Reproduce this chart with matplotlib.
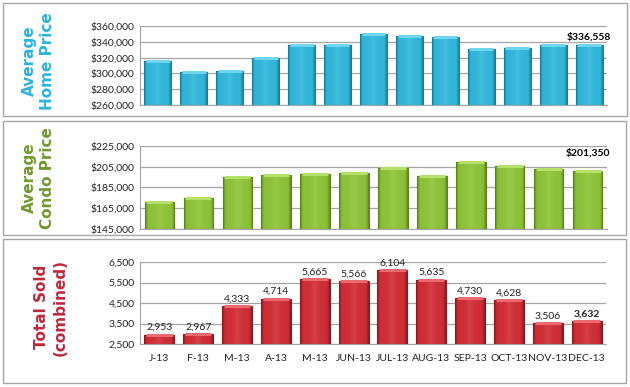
import numpy as np
import matplotlib.pyplot as plt
from matplotlib.colors import LinearSegmentedColormap
from matplotlib.patches import Rectangle
from matplotlib.ticker import FuncFormatter

home_price = [315300, 301400, 302600, 319500, 335500, 335500, 350000, 347300,
              345700, 330900, 331700, 336000, 336558]
condo_price = [171100, 175300, 195600, 197300, 198300, 198500, 203700, 196300,
               209200, 205300, 202400, 201350]
months = ["J-13", "F-13", "M-13", "A-13", "M-13", "JUN-13", "JUL-13", "AUG-13",
          "SEP-13", "OCT-13", "NOV-13", "DEC-13"]
total_sold = [2953, 2967, 4333, 4714, 5665, 5566, 6104, 5635, 4730, 4628, 3506, 3632]

FONT = "Lato"
W, H = 630, 387

fig = plt.figure(figsize=(W / 100, H / 100), dpi=100)
fig.patch.set_facecolor("white")


def box(x0, y0, x1, y1):
    # panel frame in pixel coords (y from top)
    r = Rectangle((x0 / W, 1 - y1 / H), (x1 - x0) / W, (y1 - y0) / H,
                  transform=fig.transFigure, fill=False, edgecolor="#a6a6a6",
                  linewidth=1.0)
    fig.add_artist(r)


def make_ax(x0, y0, x1, y1):
    return fig.add_axes([x0 / W, 1 - y1 / H, (x1 - x0) / W, (y1 - y0) / H])


def grad_bars(ax, values, base, cols, width):
    cmap = LinearSegmentedColormap.from_list("g", cols)
    grad = np.concatenate([np.linspace(0, 1, 50), np.linspace(1, 0, 50)])
    grad = np.tile(np.clip(grad * 4, 0, 1) * 0.5 + grad * 0.25, (2, 1))
    bars = ax.bar(range(len(values)), np.array(values) - base, bottom=base,
                  width=width, color="none", edgecolor=cols[0], linewidth=0.8,
                  zorder=3)
    for b in bars:
        x, y = b.get_x(), b.get_y()
        w, h = b.get_width(), b.get_height()
        im = ax.imshow(grad, cmap=cmap, aspect="auto", extent=(x, x + w, y, y + h),
                       zorder=2, interpolation="bicubic", vmin=0, vmax=1)
        im.set_clip_path(b)
        # light bevel at the top
        ax.plot([x + w * 0.06, x + w * 0.94], [y + h, y + h], color=cols[-1],
                linewidth=2.2, zorder=4, solid_capstyle="butt")
    return bars


def style(ax, ylim, step, fmt, n):
    ax.set_xlim(-0.5, n - 0.5)
    ax.set_ylim(*ylim)
    ax.set_yticks(np.arange(ylim[0], ylim[1] + 1, step))
    ax.yaxis.set_major_formatter(FuncFormatter(fmt))
    ax.grid(axis="y", color="#a6a6a6", linewidth=0.9, zorder=0)
    ax.set_axisbelow(True)
    for s in ["top", "right"]:
        ax.spines[s].set_visible(False)
    ax.spines["left"].set_color("#a6a6a6")
    ax.spines["bottom"].set_color("#a6a6a6")
    ax.tick_params(axis="y", length=0, pad=4, labelsize=7.5, labelcolor="#222222")
    for t in ax.get_yticklabels():
        t.set_family(FONT)


dollars = lambda v, p: f"${v:,.0f}"
plain = lambda v, p: f"{v:,.0f}"

# panels
box(3, 3, 627, 116)
box(3, 121, 626, 235)
box(3, 239, 626, 383)

# home price
ax1 = make_ax(140, 26, 607, 105)
grad_bars(ax1, home_price, 260000, ["#1a7e9c", "#2eadd2", "#34b6da", "#6fd6f0"], 0.75)
style(ax1, (260000, 360000), 20000, dollars, len(home_price))
ax1.set_xticks([])
ax1.text(len(home_price) - 1, home_price[-1] + 3500, f"${home_price[-1]:,}",
         ha="center", va="bottom", fontsize=7.5, fontweight="bold", family=FONT)

# condo price
ax2 = make_ax(140, 146, 607, 229)
grad_bars(ax2, condo_price, 145000, ["#5c8418", "#86b934", "#8fc23c", "#b5e06a"], 0.76)
style(ax2, (145000, 225000), 20000, dollars, len(condo_price))
ax2.set_xticks([])
ax2.text(len(condo_price) - 1, condo_price[-1] + 12000, f"${condo_price[-1]:,}",
         ha="center", va="bottom", fontsize=7.5, fontweight="bold", family=FONT)

# total sold
ax3 = make_ax(140, 262, 606, 344)
grad_bars(ax3, total_sold, 2500, ["#8a1a20", "#c52a32", "#cf3038", "#ec6a70"], 0.77)
style(ax3, (2500, 6500), 1000, plain, len(total_sold))
ax3.set_xticks(range(len(months)))
ax3.set_xticklabels(months, family=FONT, fontsize=7.5, color="#222222")
ax3.tick_params(axis="x", length=0, pad=7)
for i, v in enumerate(total_sold):
    last = i == len(total_sold) - 1
    ax3.text(i, v + 130, f"{v:,}", ha="center", va="bottom", fontsize=7.5,
             family=FONT, color="#222222",
             fontweight="bold" if last else "normal")

# side labels
lab = dict(rotation=90, ha="center", va="center", multialignment="center",
           fontsize=11, fontweight="bold", family="DejaVu Sans", linespacing=1.25)
fig.text(38 / W, 1 - 61 / H, "Average\nHome Price", color="#2cb3e0", **lab)
fig.text(38 / W, 1 - 178 / H, "Average\nCondo Price", color="#6f9a2e", **lab)
fig.text(51 / W, 1 - 307 / H, "Total Sold\n(combined)", color="#c0283a", **lab)

fig.savefig("out.png", dpi=100, facecolor="white")
